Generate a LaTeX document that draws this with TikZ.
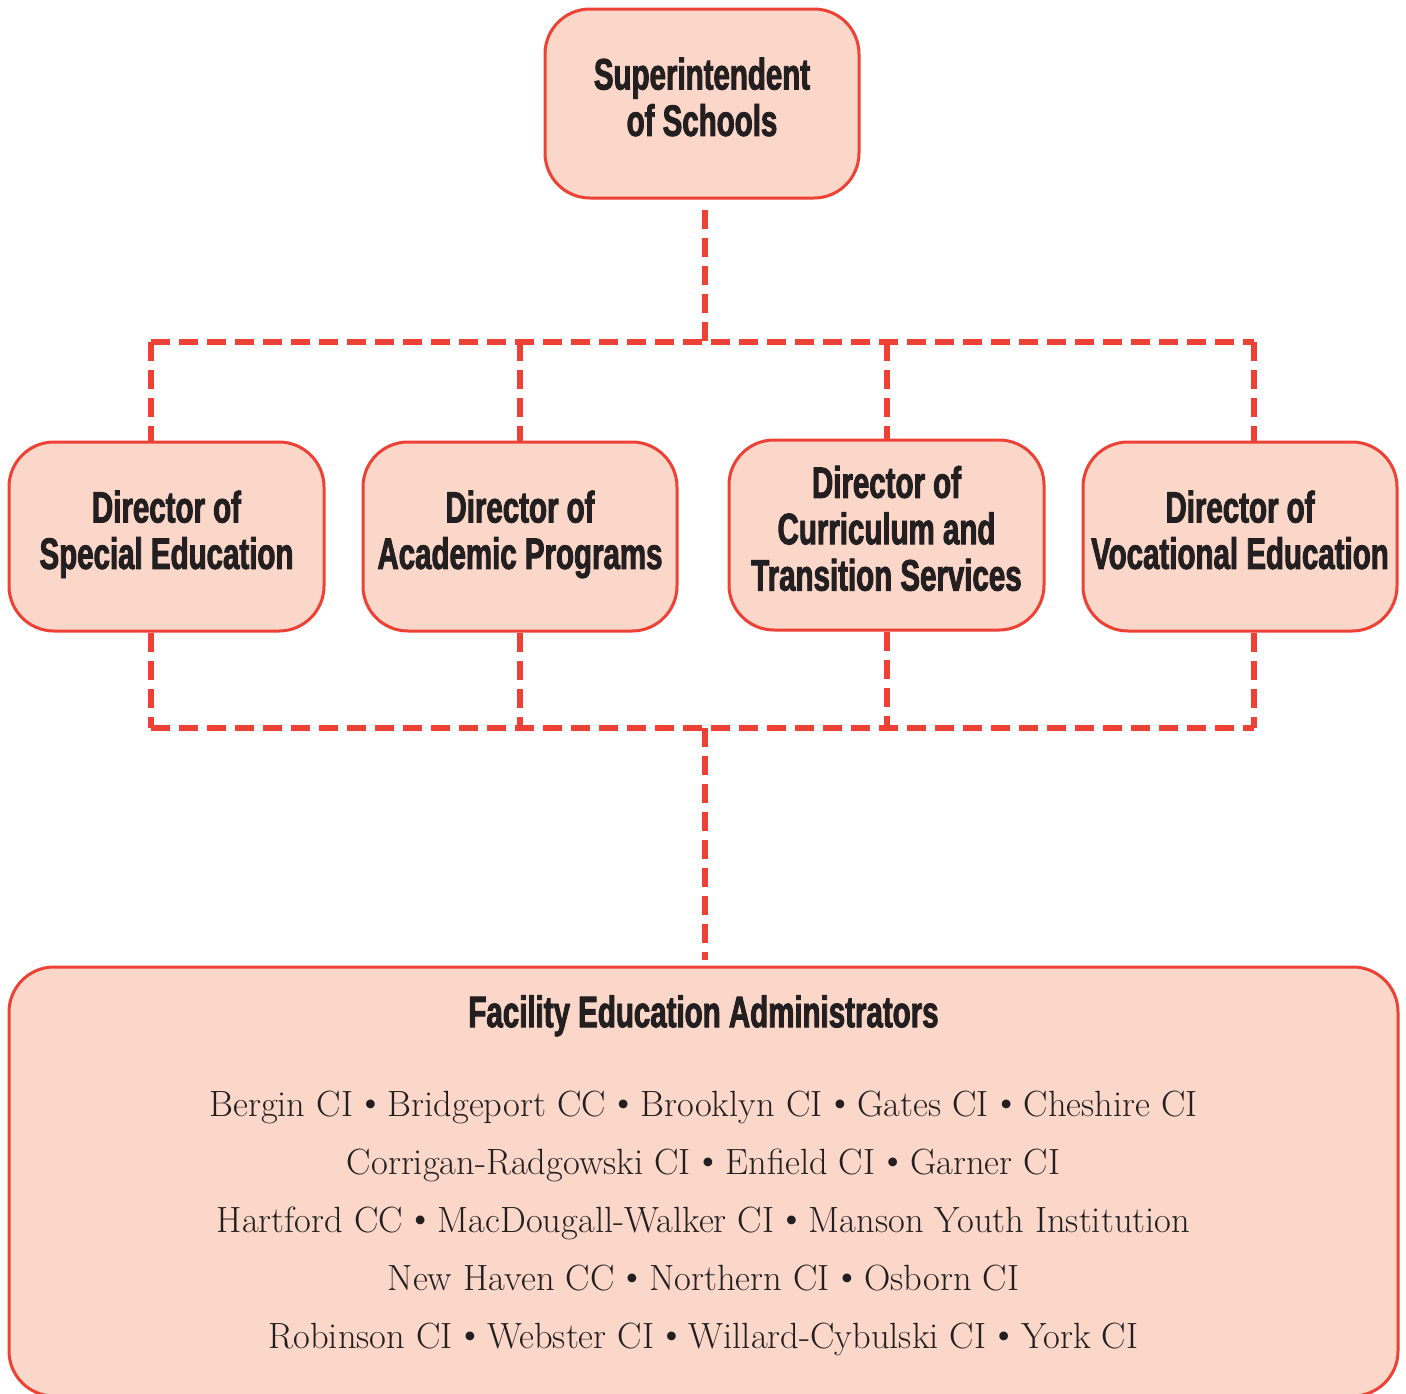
\documentclass[tikz,border=0pt]{standalone}
\usepackage{fontspec}
\usetikzlibrary{calc}
\setmainfont{Latin Modern Roman}
\newfontfamily\headfont[FakeStretch=0.67,FakeBold=2]{Liberation Sans Bold}
\newfontfamily\bulfont{Liberation Serif}
\newcommand\bul{{\bulfont •}}
\definecolor{boxfill}{HTML}{FBD7C9}
\definecolor{boxline}{HTML}{EE4136}
\definecolor{txt}{HTML}{231F20}
\begin{document}
\begin{tikzpicture}[x=1pt,y=-1pt,
  box/.style={draw=boxline, fill=boxfill, line width=3pt, rounded corners=45pt,
    inner sep=0pt, align=center, text=txt,
    font=\headfont\fontsize{44}{45}\selectfont},
  headtext/.style={inner sep=0pt, align=center, text=txt,
    font=\headfont\fontsize{44}{45}\selectfont},
  bodytext/.style={inner sep=0pt, align=center, text=txt,
    font=\fontsize{36.5}{58}\selectfont},
  conn/.style={draw=boxline, line width=5.5pt, dash pattern=on 19pt off 9pt}]
\useasboundingbox (0,0) rectangle (1406,1393);

\node[box, minimum width=314pt, minimum height=189pt] (sup) at (702,103.5)
  {\strut Superintendent\\\strut of Schools};
\node[box, minimum width=315pt, minimum height=189pt] (d1) at (166.5,536.5)
  {\strut Director of\\\strut Special Education};
\node[box, minimum width=314pt, minimum height=189pt] (d2) at (520,536.5)
  {\strut Director of\\\strut Academic Programs};
\node[box, minimum width=315pt, minimum height=190pt] (d3) at (886.5,535)
  {\strut Director of\\\strut Curriculum and\\\strut Transition Services};
\node[box, minimum width=314pt, minimum height=189pt] (d4) at (1240,536.5)
  {\strut Director of\\\strut Vocational Education};
\node[box, minimum width=1389pt, minimum height=429pt] (fac) at (703.5,1181.5) {};
\node[headtext] (fhead) at (703.5,1018) {\strut Facility Education Administrators};
\node[bodytext] (flist) at (703.5,1220.4)
  {\strut Bergin CI \bul{} Bridgeport CC \bul{} Brooklyn CI \bul{} Gates CI \bul{} Cheshire CI\\
   \strut Corrigan-Radgowski CI \bul{} Enfield CI \bul{} Garner CI\\
   \strut Hartford CC \bul{} MacDougall-Walker CI \bul{} Manson Youth Institution\\
   \strut New Haven CC \bul{} Northern CI \bul{} Osborn CI\\
   \strut Robinson CI \bul{} Webster CI \bul{} Willard-Cybulski CI \bul{} York CI};

\coordinate (tj) at (705,342);
\coordinate (t1) at (151,342);
\coordinate (t2) at (520,342);
\coordinate (t3) at (887,342);
\coordinate (t4) at (1254,342);
\coordinate (bj) at (705,728);
\coordinate (b1) at (151,728);
\coordinate (b2) at (520,728);
\coordinate (b3) at (887,728);
\coordinate (b4) at (1254,728);

\draw[conn] ($(tj |- sup.south)+(0,10)$) -- (tj);
\draw[conn] (t1) -- (t4);
\draw[conn] (t1) -- (t1 |- d1.north);
\draw[conn] (t2) -- (t2 |- d2.north);
\draw[conn] (t3) -- (t3 |- d3.north);
\draw[conn] (t4) -- (t4 |- d4.north);
\draw[conn] (b1 |- d1.south) -- (b1);
\draw[conn] (b2 |- d2.south) -- (b2);
\draw[conn] (b3 |- d3.south) -- (b3);
\draw[conn] (b4 |- d4.south) -- (b4);
\draw[conn] (b1) -- (b4);
\draw[conn] (bj) -- ($(bj |- fac.north)+(0,-6)$);
\end{tikzpicture}
\end{document}
